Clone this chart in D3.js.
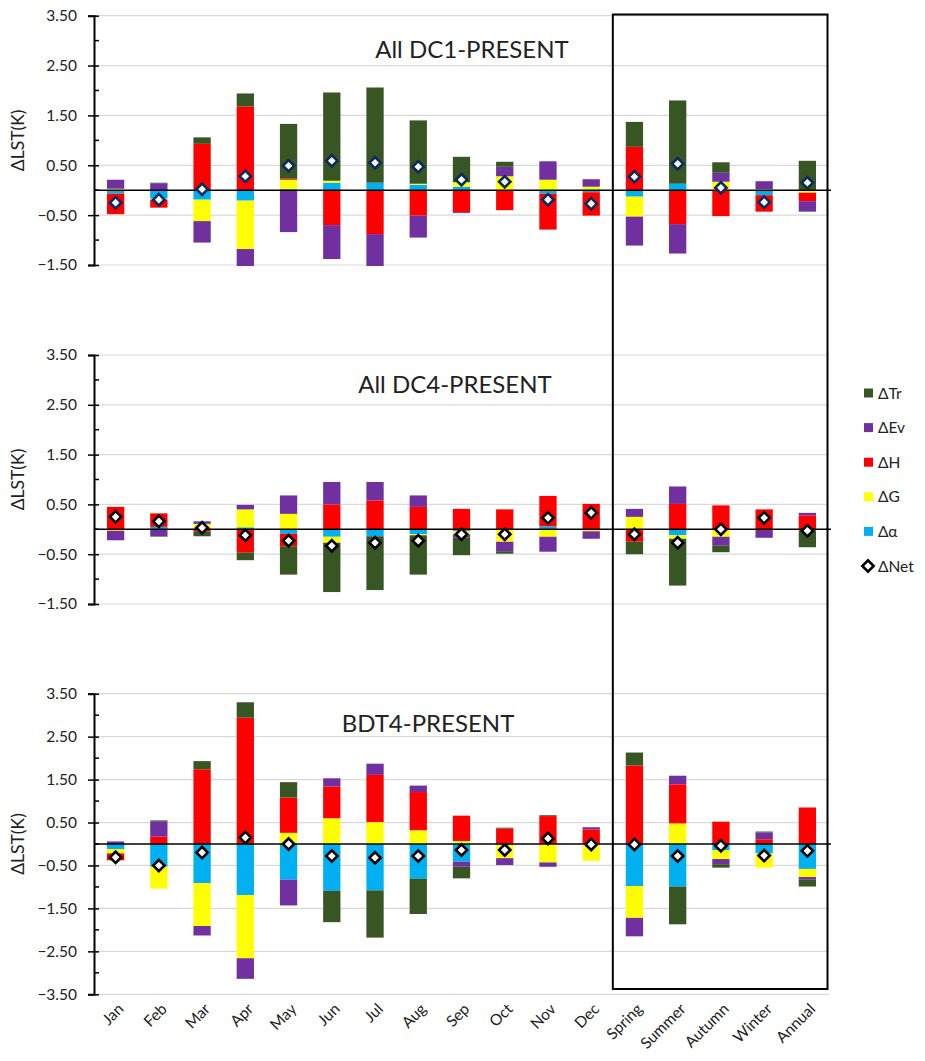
<!DOCTYPE html>
<html>
<head>
<meta charset="utf-8">
<script src="https://cdn.jsdelivr.net/npm/d3@7/dist/d3.min.js"></script>
<style>
  html, body { margin: 0; padding: 0; background: #fff; }
  text { font-family: Lato, "Open Sans", sans-serif; fill: #222; }
</style>
</head>
<body>
<script>

var w = 925;
var h = 1061;

var categories = ["Jan","Feb","Mar","Apr","May","Jun","Jul","Aug","Sep","Oct","Nov","Dec","Spring","Summer","Autumn","Winter","Annual"];

// All DC1-PRESENT
var dc1Alpha = [-0.07,-0.17,-0.19,-0.21, 0.02, 0.15, 0.15, 0.11, 0.07, 0.00,-0.07,-0.04,-0.13, 0.13, 0.01,-0.10, 0.00];
var dc1G     = [ 0.03,-0.02,-0.43,-0.97, 0.19, 0.04,-0.01, 0.02, 0.09, 0.28, 0.21, 0.07,-0.40, 0.00, 0.16, 0.02,-0.05];
var dc1H     = [-0.41,-0.16, 0.93, 1.68, 0.02,-0.70,-0.87,-0.51,-0.44,-0.40,-0.72,-0.47, 0.87,-0.68,-0.52,-0.33,-0.17];
var dc1Ev    = [ 0.18, 0.14,-0.43,-0.45,-0.84,-0.68,-0.64,-0.44,-0.02, 0.19, 0.37, 0.15,-0.58,-0.59, 0.18, 0.16,-0.21];
var dc1Tr    = [ 0.00, 0.01, 0.13, 0.26, 1.10, 1.77, 1.91, 1.27, 0.51, 0.10, 0.00, 0.00, 0.50, 1.67, 0.21, 0.00, 0.59];
var dc1Net   = [-0.25,-0.19, 0.02, 0.28, 0.49, 0.59, 0.55, 0.47, 0.21, 0.17,-0.19,-0.27, 0.27, 0.53, 0.05,-0.24, 0.15];

// All DC4-PRESENT
var dc4Alpha = [ 0.00, 0.05, 0.03, 0.04,-0.09,-0.15,-0.14,-0.10,-0.04, 0.00, 0.06, 0.00, 0.00,-0.12, 0.00, 0.00, 0.00];
var dc4G     = [-0.03, 0.00, 0.08, 0.36, 0.31,-0.12, 0.00,-0.02,-0.06,-0.25,-0.15,-0.04, 0.25,-0.07,-0.15, 0.00,-0.02];
var dc4H     = [ 0.45, 0.27,-0.05,-0.47,-0.25, 0.50, 0.58, 0.45, 0.41, 0.40, 0.61, 0.51,-0.25, 0.51, 0.48, 0.40, 0.28];
var dc4Ev    = [-0.19,-0.14, 0.05, 0.09, 0.37, 0.45, 0.37, 0.23,-0.07,-0.19,-0.30,-0.15, 0.16, 0.35,-0.18,-0.17, 0.05];
var dc4Tr    = [ 0.00,-0.01,-0.09,-0.15,-0.57,-0.99,-1.08,-0.79,-0.35,-0.05, 0.00, 0.00,-0.25,-0.94,-0.13, 0.00,-0.34];
var dc4Net   = [ 0.25, 0.16, 0.03,-0.12,-0.23,-0.33,-0.27,-0.23,-0.10,-0.10, 0.23, 0.33,-0.10,-0.27, 0.00, 0.23,-0.03];

// BDT4-PRESENT
var bdtAlpha = [-0.12,-0.53,-0.91,-1.19,-0.83,-1.09,-1.08,-0.81,-0.41,-0.02, 0.00, 0.00,-0.98,-0.99,-0.14,-0.22,-0.58];
var bdtG     = [-0.10,-0.51,-1.00,-1.47, 0.26, 0.60, 0.51, 0.32, 0.07,-0.31,-0.43,-0.39,-0.74, 0.48,-0.21,-0.33,-0.19];
var bdtH     = [-0.16, 0.17, 1.74, 2.94, 0.82, 0.74, 1.10, 0.89, 0.59, 0.36, 0.65, 0.34, 1.83, 0.91, 0.52, 0.11, 0.85];
var bdtEv    = [ 0.06, 0.36,-0.22,-0.48,-0.60, 0.19, 0.26, 0.15,-0.12,-0.16,-0.10, 0.05,-0.43, 0.20,-0.12, 0.16,-0.06];
var bdtTr    = [ 0.00, 0.02, 0.19, 0.36, 0.36,-0.73,-1.10,-0.82,-0.27, 0.02, 0.02, 0.00, 0.30,-0.88,-0.08, 0.02,-0.16];
var bdtNet   = [-0.31,-0.50,-0.20, 0.15, 0.00,-0.28,-0.32,-0.28,-0.14,-0.14, 0.13,-0.01,-0.01,-0.28,-0.04,-0.27,-0.16];

var yTicks1 = [3.5, 2.5, 1.5, 0.5, -0.5, -1.5];
var yTicks3 = [3.5, 2.5, 1.5, 0.5, -0.5, -1.5, -2.5, -3.5];

// series stacked outward from zero in this order
var keys = ["alpha","G","H","Ev","Tr"];
var colors = { alpha: "#00B0F0", G: "#FFFF00", H: "#FF0000", Ev: "#7030A0", Tr: "#375623" };
var legendItems = [
  {key: "Tr", label: "\u0394Tr"},
  {key: "Ev", label: "\u0394Ev"},
  {key: "H", label: "\u0394H"},
  {key: "G", label: "\u0394G"},
  {key: "alpha", label: "\u0394\u03b1"},
  {key: "Net", label: "\u0394Net"}
];

var panels = [
  { id: "p1", title: "All DC1-PRESENT", titleX: 472, titleY: 58, top: 15.7, bottom: 265, domain: [-1.5, 3.5], ticks: yTicks1,
    alpha: dc1Alpha, G: dc1G, H: dc1H, Ev: dc1Ev, Tr: dc1Tr, net: dc1Net, netStroke: "#0B2A5E" },
  { id: "p2", title: "All DC4-PRESENT", titleX: 455, titleY: 393, top: 355, bottom: 604, domain: [-1.5, 3.5], ticks: yTicks1,
    alpha: dc4Alpha, G: dc4G, H: dc4H, Ev: dc4Ev, Tr: dc4Tr, net: dc4Net, netStroke: "#000" },
  { id: "p3", title: "BDT4-PRESENT", titleX: 428, titleY: 732, top: 693.7, bottom: 994.3, domain: [-3.5, 3.5], ticks: yTicks3,
    alpha: bdtAlpha, G: bdtG, H: bdtH, Ev: bdtEv, Tr: bdtTr, net: bdtNet, netStroke: "#000" }
];

var xLeft = 94, xRight = 829;

var svg = d3.select("body").append("svg").attr("width", w).attr("height", h);

var x = d3.scaleBand().domain(categories).range([xLeft, xRight]).paddingInner(0.6).paddingOuter(0.3);
var bw = x.bandwidth();

var diamond = d3.symbol().type(d3.symbolSquare).size(64);

panels.forEach(function(p){
  var y = d3.scaleLinear().domain(p.domain).range([p.bottom, p.top]);
  var g = svg.append("g");

  // gridlines
  g.selectAll(".grid").data(p.ticks).enter().append("line")
    .attr("x1", xLeft).attr("x2", xRight)
    .attr("y1", function(d){ return y(d); }).attr("y2", function(d){ return y(d); })
    .attr("stroke", "#d9d9d9").attr("stroke-width", 1.2);

  // title
  g.append("text").text(p.title)
    .attr("x", p.titleX).attr("y", p.titleY)
    .attr("text-anchor", "middle").attr("font-size", "24px");

  // axis title
  g.append("text").text("\u0394LST(K)")
    .attr("transform", "translate(24," + ((p.top + p.bottom) / 2) + ") rotate(-90)")
    .attr("text-anchor", "middle").attr("font-size", "17.5px");

  // y axis with ticks at x.5 and minor ticks at whole numbers
  var axis = d3.axisLeft(y).tickValues(p.ticks).tickFormat(d3.format(".2f")).tickSize(6).tickPadding(11);
  var ax = g.append("g").attr("transform", "translate(" + xLeft + ",0)").call(axis);
  ax.select(".domain").attr("stroke", "#000").attr("stroke-width", 2);
  ax.selectAll(".tick line").attr("x1", -6).attr("x2", 5).attr("stroke-width", 1.5);
  ax.selectAll(".tick text").attr("font-size", "15.5px").attr("font-family", "Lato, sans-serif").attr("fill", "#222");
  var minor = d3.range(p.domain[0] + 0.5, p.domain[1], 1);
  g.selectAll(".minor").data(minor).enter().append("line")
    .attr("x1", xLeft).attr("x2", xLeft + 5)
    .attr("y1", function(d){ return y(d); }).attr("y2", function(d){ return y(d); })
    .attr("stroke", "#000").attr("stroke-width", 1.5);

  // stacked bars, positives and negatives stacked apart
  var rows = categories.map(function(c, i){
    var r = { cat: c };
    keys.forEach(function(k){ r[k] = p[k][i]; });
    return r;
  });
  var series = d3.stack().keys(keys).offset(d3.stackOffsetDiverging)(rows);

  svg.append("clipPath").attr("id", "clip-" + p.id).append("rect")
    .attr("x", xLeft).attr("y", p.top).attr("width", xRight - xLeft).attr("height", p.bottom - p.top + 1);

  var bars = g.append("g").attr("clip-path", "url(#clip-" + p.id + ")");
  bars.selectAll("g.s").data(series).enter().append("g")
    .attr("fill", function(s){ return colors[s.key]; })
    .selectAll("rect").data(function(s){ return s; }).enter().append("rect")
    .attr("x", function(d){ return x(d.data.cat); })
    .attr("width", bw)
    .attr("y", function(d){ return y(Math.max(d[0], d[1])); })
    .attr("height", function(d){ return Math.abs(y(d[0]) - y(d[1])); });

  // zero line
  g.append("line").attr("x1", xLeft).attr("x2", xRight + 2)
    .attr("y1", y(0)).attr("y2", y(0)).attr("stroke", "#000").attr("stroke-width", 1.6);

  // net markers
  g.selectAll(".net").data(p.net).enter().append("path")
    .attr("d", diamond)
    .attr("transform", function(d, i){ return "translate(" + (x(categories[i]) + bw / 2) + "," + y(d) + ") rotate(45)"; })
    .attr("fill", "#fff").attr("stroke", p.netStroke).attr("stroke-width", 2.6);
});

// x labels under last panel
var xl = svg.append("g");
xl.selectAll("text").data(categories).enter().append("text")
  .text(function(d){ return d; })
  .attr("transform", function(d){ return "translate(" + (x(d) + bw / 2 + 9) + ",1010) rotate(-45)"; })
  .attr("text-anchor", "end").attr("font-size", "15.5px");

// seasonal box
var xs = x("Spring") - (x.step() - bw) / 2;
svg.append("rect")
  .attr("x", xs).attr("y", 14.5)
  .attr("width", xRight - 1.5 - xs).attr("height", 989 - 14.5)
  .attr("fill", "none").attr("stroke", "#000").attr("stroke-width", 2);

// legend
var legY = d3.scalePoint().domain(legendItems.map(function(d){ return d.key; })).range([393, 566]);
var leg = svg.append("g");
legendItems.forEach(function(it){
  var cy = legY(it.key);
  if (it.key == "Net") {
    leg.append("path").attr("d", diamond)
      .attr("transform", "translate(868," + cy + ") rotate(45)")
      .attr("fill", "#fff").attr("stroke", "#000").attr("stroke-width", 2.6);
  } else {
    leg.append("rect").attr("x", 864).attr("y", cy - 4.5).attr("width", 9).attr("height", 9)
      .attr("fill", colors[it.key]);
  }
  leg.append("text").text(it.label)
    .attr("x", 878).attr("y", cy + 5.5).attr("font-size", "15.5px");
});

</script>
</body>
</html>
